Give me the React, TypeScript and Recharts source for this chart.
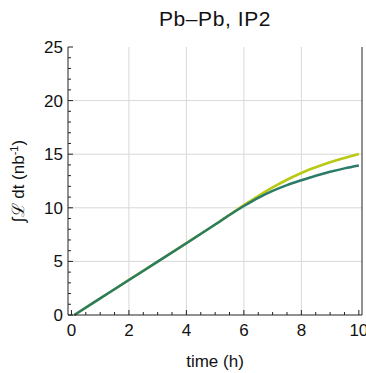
import { LineChart, Line, XAxis, YAxis, ReferenceLine } from "recharts";

const times = [0.1, 1, 2, 3, 4, 5, 5.5, 6, 6.5, 7, 7.5, 8, 8.5, 9, 9.5, 10];
const yellowLumi = [0, 1.55, 3.27, 4.98, 6.7, 8.44, 9.35, 10.25, 11.1, 11.9, 12.62, 13.25, 13.78, 14.25, 14.65, 15.02];
const tealLumi = [0, 1.55, 3.27, 4.98, 6.7, 8.44, 9.32, 10.16, 10.93, 11.58, 12.12, 12.57, 12.99, 13.36, 13.68, 13.95];

const xTicks = [0, 0.5, 1, 1.5, 2, 2.5, 3, 3.5, 4, 4.5, 5, 5.5, 6, 6.5, 7, 7.5, 8, 8.5, 9, 9.5, 10];
const yTicks = [0, 1, 2, 3, 4, 5, 6, 7, 8, 9, 10, 11, 12, 13, 14, 15, 16, 17, 18, 19, 20, 21, 22, 23, 24, 25];
const xGrid = [2, 4, 6, 8];
const yGrid = [5, 10, 15, 20];

const data = times.map((t, i) => ({ t, yellow: yellowLumi[i], teal: tealLumi[i] }));

const font = "'Liberation Sans', Arial, sans-serif";
const frame = "#222";

function XTick(props: any) {
  const { x, y, payload, top } = props;
  const v = payload.value;
  const major = v % 2 === 0;
  const len = major ? 5 : 3;
  return (
    <g>
      <line x1={x} x2={x} y1={y} y2={top ? y + len : y - len} stroke={frame} />
      {major && !top && (
        <text x={x} y={y + 21} textAnchor="middle" fontSize={17} fontFamily={font} fill="#111">
          {v}
        </text>
      )}
    </g>
  );
}

function YTick(props: any) {
  const { x, y, payload, right } = props;
  const v = payload.value;
  const major = v % 5 === 0;
  const len = major ? 5 : 3;
  return (
    <g>
      <line x1={x} x2={right ? x - len : x + len} y1={y} y2={y} stroke={frame} />
      {major && !right && (
        <text x={x - 5} y={y + 6} textAnchor="end" fontSize={17} fontFamily={font} fill="#111">
          {v}
        </text>
      )}
    </g>
  );
}

export default function App() {
  return (
    <div style={{ position: "absolute", left: 0, top: 0, width: 366, height: 373, background: "#fff" }}>
      <div
        style={{
          position: "absolute",
          left: 68,
          width: 294,
          top: 7,
          textAlign: "center",
          fontFamily: font,
          fontSize: 21,
          letterSpacing: 0.6,
          color: "#111",
        }}
      >
        Pb–Pb, IP2
      </div>
      <LineChart width={366} height={373} data={data} margin={{ top: 47, right: 0, bottom: 0, left: 0 }}>
        {xGrid.map((g) => (
          <ReferenceLine key={"x" + g} x={g} stroke="#d8d8d8" strokeWidth={1} />
        ))}
        {yGrid.map((g) => (
          <ReferenceLine key={"y" + g} y={g} stroke="#d8d8d8" strokeWidth={1} />
        ))}
        <XAxis
          type="number"
          dataKey="t"
          domain={[-0.12, 10.11]}
          ticks={xTicks}
          interval={0}
          allowDataOverflow
          height={58}
          tickSize={0}
          tickMargin={0}
          tickLine={false}
          axisLine={{ stroke: frame }}
          tick={<XTick />}
          label={{
            value: "time (h)",
            position: "insideTop",
            offset: 40,
            fontSize: 17,
            fontFamily: font,
            fill: "#111",
          }}
        />
        <XAxis
          xAxisId="top"
          orientation="top"
          type="number"
          domain={[-0.12, 10.11]}
          ticks={xTicks}
          interval={0}
          allowDataOverflow
          height={0}
          tickSize={0}
          tickMargin={0}
          tickLine={false}
          axisLine={{ stroke: frame }}
          tick={<XTick top />}
        />
        <YAxis
          type="number"
          domain={[0, 25]}
          ticks={yTicks}
          interval={0}
          width={68}
          tickSize={0}
          tickMargin={0}
          tickLine={false}
          axisLine={{ stroke: frame }}
          tick={<YTick />}
          label={{
            content: () => (
              <text
                transform="translate(24, 181) rotate(-90)"
                textAnchor="middle"
                fontSize={17}
                fontFamily={font}
                fill="#111"
              >
                ∫ℒ dt (nb
                <tspan dy={-6} fontSize={11}>
                  -1
                </tspan>
                <tspan dy={6}>)</tspan>
              </text>
            ),
          }}
        />
        <YAxis
          yAxisId="right"
          orientation="right"
          type="number"
          domain={[0, 25]}
          ticks={yTicks}
          interval={0}
          width={4}
          tickSize={0}
          tickMargin={0}
          tickLine={false}
          axisLine={{ stroke: frame }}
          tick={<YTick right />}
        />
        <Line
          type="monotone"
          dataKey="yellow"
          stroke="#b9c914"
          strokeWidth={2.6}
          dot={false}
          isAnimationActive={false}
        />
        <Line
          type="monotone"
          dataKey="teal"
          stroke="#2a7b68"
          strokeWidth={2.4}
          dot={false}
          isAnimationActive={false}
        />
      </LineChart>
    </div>
  );
}
